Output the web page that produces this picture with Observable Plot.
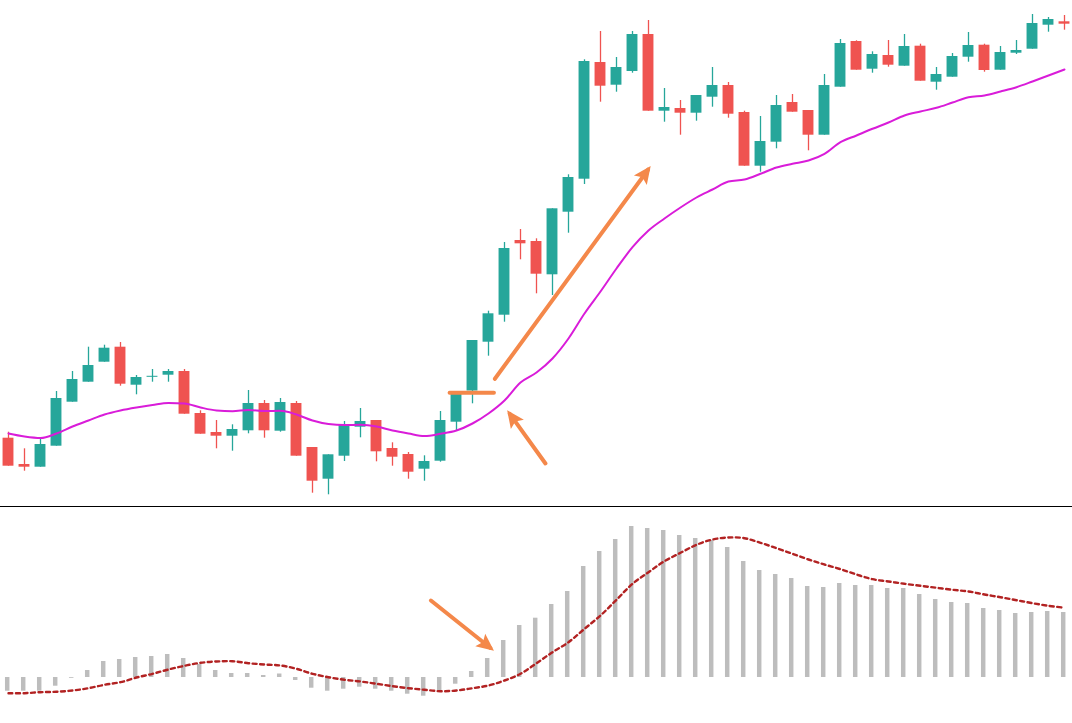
<!DOCTYPE html>
<html><head><meta charset="utf-8">
<script src="https://cdn.jsdelivr.net/npm/d3@7"></script>
<script src="https://cdn.jsdelivr.net/npm/@observablehq/plot@0.6"></script>
<style>
html,body{margin:0;padding:0;background:#fff;overflow:hidden;}
#chart svg{display:block;}
</style></head><body><div id="chart"></div>
<script>
// Candle OHLC (price units)
const opens  = [162.3,136,133.3,154.3,198.3,218.3,238.3,253.3,215.3,223.2,225.3,229,187,168,164.3,169.7,197,169.3,197,153,121.3,144.3,173.3,180,152,146,131.3,139.3,178.3,209.5,258.3,285.3,360,359,325.7,388.3,421.3,538,515.3,529,566,489.3,492,487.3,503.3,515,488,434.3,458.3,498,490,465.3,513.3,559,531.3,545,534.3,554.3,518.3,523.3,543.3,555.3,530.3,547.3,551.3,575.3,578.7];
const highs  = [168.3,151.7,161.7,209,229,253.3,255.3,258,225,231,231,231,189.7,180,175.7,210,200,202,199,153,145.7,179,192,180,157.7,148,144.7,189,206,260,289.3,358,371,361.7,391.7,425.7,540.7,569,543,569,580,512,500,505,533,518,489.3,484,505,506,490,526,561,559.7,548.7,560,566,556.3,533,547,568,556.3,554,560,586,583,585];
const lows   = [134.3,129.3,133.3,154.3,198.3,218.3,238.3,214.3,205.7,218.3,218.3,186.3,166.3,151.7,149.3,166.7,162.3,168.3,144.3,107.3,105.7,139,162.7,138.7,134.3,121.3,119.3,138.3,170,196.7,244.3,278.3,340.7,306.7,305,367.3,416,498.3,508.3,527.3,489.3,478.3,465.3,479.3,493.3,482.3,434.3,428.3,451.7,488.3,449.7,465.3,513.3,530.3,527.3,533.3,534.3,519.3,510.3,523.3,538.3,528.3,530.3,546,551.3,568.3,570.3];
const closes = [134.3,133.3,156,202,221,235,252.3,216.3,223,224.2,229,186.3,166.3,164.3,171,197,169.7,198,144.3,119.3,145.7,176,179,148.7,143.3,128.3,139,180,206,260,286.7,352,356.7,326.3,391.7,423,539,514.3,533,566,489.3,493,487.3,505,515,486.3,434.3,459,495,488.3,465.3,515,557,530.3,546,535.3,554,519.3,526,544,555,530,548,550,577,581,576.3];
// Moving average
const ma = [167,164,162.5,167,174,180,186,190,193,195.5,197.5,197,193,190,189.3,190.5,189.5,189.7,186,180,176.5,175.5,175.7,174,170,167,164.5,166.7,170,177,187,200,218,228,242,262,287,309,332,353.3,370,382,393,403,411,419,421,426.7,433,436.7,440,446.7,458.3,465,471.7,478,485,489,492.7,498,503.3,505,509,513.3,519,525,531];
// Oscillator histogram and signal line
const hist = [-13.7,-13.7,-13.7,-8.7,-0.8,7,16,18,20,21,23,19,13,7,4,4,2,3.5,-3,-10.7,-13.7,-11.7,-9.7,-11.7,-13.7,-16.7,-18.7,-14.7,-6.7,6,19,37,52,59.3,73,86,111,126,138,151,149,147,142,139,137,130,116,107,103,99,91,90,94,92,92,89,89,83,78,75,74,69,67,64,65,66,65];
const signal = [-15.7,-15.7,-14.7,-14.3,-13,-10.7,-7.3,-4.7,0,3.7,8,11.7,14.7,16,16.3,14.3,13,12,8.7,3.7,0.3,-2.3,-4,-6.3,-8.7,-10.7,-12.3,-13.7,-13,-10.7,-8,-3,3.7,14.3,25.3,35.3,48.7,62,77.7,93.7,105.3,116.3,124.7,132.7,138,140,139.3,134.7,129.3,123.7,118,113,108.3,103,98.3,96,93.7,91.7,89.7,87.7,86,83,80.3,77.3,74.3,71.7,69.7];
// Annotations (candle index units, price / oscillator units)
const priceArrows = [
  {x1: 30.9, y1: 221.7, x2: 40.47, y2: 430.8},
  {x1: 34.06, y1: 137, x2: 31.83, y2: 186.7}
];
const levelLine = [{x1: 28.1, x2: 30.87, y: 207.7}];
const histArrows = [{x1: 26.9, y1: 77, x2: 30.62, y2: 29.5}];

const GREEN = "#26a69a", RED = "#ef5350", ORANGE = "#f4884a";
const candles = d3.range(opens.length).map(i => ({i, open: opens[i], high: highs[i], low: lows[i], close: closes[i]}));
const col = d => d.close >= d.open ? GREEN : RED;

// filled arrowhead marker
const filledHead = (color) => {
  const m = d3.create("svg:marker")
    .attr("viewBox", "-16 -9 22 18")
    .attr("markerWidth", 22).attr("markerHeight", 18)
    .attr("markerUnits", "userSpaceOnUse")
    .attr("refX", 0).attr("refY", 0)
    .attr("orient", "auto")
    .attr("fill", color).attr("stroke", "none");
  m.append("path").attr("d", "M4.5,0L-13,-8L-9.5,0L-13,8Z");
  return m.node();
};

const pricePanel = Plot.plot({
  width: 1072, height: 507, margin: 0,
  x: {domain: [0, 67], axis: null},
  y: {domain: [93, 600], axis: null},
  color: {type: "identity"},
  marks: [
    Plot.ruleX(candles, {x: d => d.i + 0.5, y1: "low", y2: "high", stroke: col, strokeWidth: 1.3}),
    Plot.rect(candles, {x1: d => d.i + 0.16, x2: d => d.i + 0.84, y1: "open", y2: "close", fill: col}),
    Plot.line(ma, {x: (d, i) => i + 0.5, y: d => d, stroke: "#d91cd9", strokeWidth: 2, curve: "monotone-x"}),
    Plot.ruleY(levelLine, {y: "y", x1: "x1", x2: "x2", stroke: ORANGE, strokeWidth: 4, strokeLinecap: "round"}),
    Plot.link(priceArrows, {x1: "x1", y1: "y1", x2: "x2", y2: "y2", stroke: ORANGE, strokeWidth: 4, strokeLinecap: "round", markerEnd: filledHead}),
    Plot.ruleY([93.7], {stroke: "#000", strokeWidth: 1.4})
  ]
});

const oscPanel = Plot.plot({
  width: 1072, height: 216, margin: 0,
  x: {domain: [0, 67], axis: null},
  y: {domain: [-46, 170], axis: null},
  marks: [
    Plot.rect(hist, {x1: (d, i) => i + 0.31, x2: (d, i) => i + 0.59, y1: 0, y2: d => d, fill: "#bdbdbd"}),
    Plot.line(signal, {x: (d, i) => i + 0.5, y: d => d, stroke: "#b22222", strokeWidth: 2.4, strokeDasharray: "4,3.5", curve: "catmull-rom"}),
    Plot.link(histArrows, {x1: "x1", y1: "y1", x2: "x2", y2: "y2", stroke: ORANGE, strokeWidth: 4, strokeLinecap: "round", markerEnd: filledHead})
  ]
});

const el = document.getElementById("chart");
el.appendChild(pricePanel);
el.appendChild(oscPanel);
</script></body></html>
